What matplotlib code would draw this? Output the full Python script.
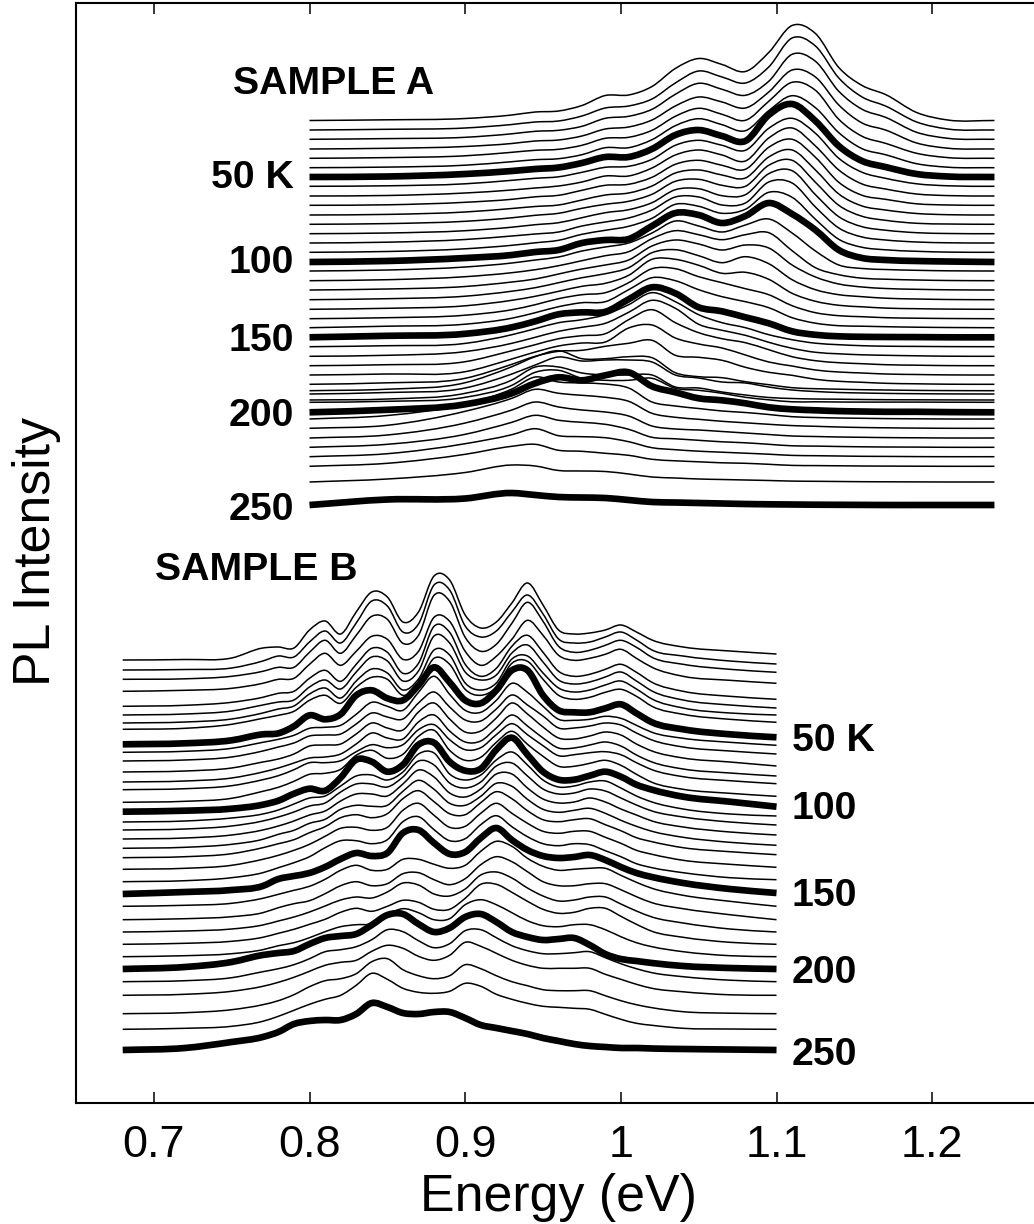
import numpy as np
import matplotlib
matplotlib.use("Agg")
import matplotlib.pyplot as plt
from matplotlib.path import Path
from matplotlib.patches import PathPatch

plt.rcParams['font.family'] = ['Liberation Sans', 'DejaVu Sans']

# ---------- SAMPLE A ----------
A_energy = [.80,.85,.90,.93,.945,.96,.975,.99,1.005,1.02,1.035,1.05,1.065,1.08,1.095,1.11,1.125,1.14,1.155,1.17,1.19,1.21,1.24]
A_offset = [120.5,130,139.3,149,158.3,167.7,177,186.3,196,205.3,215,224.3,233.7,243,252.3,262,271,280.7,290,299.7,309.3,318.7,327.7,337.3,346.7,356.3,365.7,375,384.3,390.7,394,400,402.3,412.3,419,428.3,438,447.3,456.7,466.3,482,505]
A_thick = [6,15,23,33,41]
A_curves = [
[0,.7,2,5.5,8.5,9.5,15,25,25.5,34,52,62,56,49,68,95,87,53,35,26,8,.5,0],
[0,.7,2,5.5,8,9,14,22,24,31,47,59,53,47,63,92,84,52,33,24,8,1,0],
[0,.7,2,5.5,8,9,13,21,23,30,45,56,50,44,58,85,78,48,30,22,7,1,0],
[0,.7,2.5,5.5,8,9,13,20,22,29,43,52,47,41,57,79,72,44,26,19,6,.8,0],
[0,.7,2.5,6,8,9,13,20,21,28,42,50,44,38,57,76,68,39,22,15,5,.7,0],
[0,.6,2.5,6,8,9,13,20,20,28,42,49,43,37,57,72,60,35,19,13,4,.5,0],
[0,.5,3,6,8,9.5,14,20,20,28,42,47,41,36,62,73,56,31,16,10,3,.5,0],
[0,.5,2.5,6,8,9.5,14,19,20,27,41,46,41,36,58,68,53,28,14,8,2.5,.5,0],
[0,.5,3,6,8,10,14,20,20,28,41,46,41,35,58,68,50,26,12,7,2,.4,0],
[0,.5,3,6,8.5,10,15,20,21,28,41,45,40,36,58,66,48,23,10,6,1.5,.3,0],
[0,.6,3,6.5,8.5,10,15,20,22,29,42,45,40,37,58,65,45,21,9,5,1.5,.3,0],
[0,.7,3,6.5,9,11,16,20,23,30,43,45,39,38,59,64,42,19,8,4,1,.3,0],
[0,.7,3,6.5,9,11,16,21,24,31,44,45,38,39,60,63,39,17,7,3.5,1,.2,0],
[0,.8,3.5,7,9,11,17,21,25,33,46,46,38,40,61,60,36,15,6,3,1,.2,0],
[0,.8,3.5,7,9.5,12,18,22,26,34,48,46,39,43,60,55,33,13,5,2.5,1,.2,0],
[0,1,4,7,10,12,19,22,23,36,49,47,39,46,59,48,32,12,4,2,1,.5,0],
[0,1,4,8,11,14,20,24,28,38,50,45,39,46,52,38,20,6,2.5,1.5,.7,.2,0],
[0,1,4,8,11,15,20,25,29,42,50,46,41,46,48,30,13,6,2.5,1.5,.7,.2,0],
[0,1,3.5,8,11,16,21,25,30,44,50,46,40,45,42,25,13,6,3,1.5,.7,.2,0],
[0,1,3.5,8.5,12,17,22,26,32,47,50,44,37,43,36,20,10,5,3,1.5,.7,.2,0],
[0,1,3.5,9,13,18,23,26,34,50,50,44,36,37,30,16,8,4,2.5,1.2,.6,.2,0],
[0,1,3.5,9,14,20,24,26,36,50,50,42,36,30,24,13,6,3,2,1,.5,.2,0],
[0,1.5,3.5,9.5,15,21,25,26,38,50,47,38,31,26,20,10,4.5,2,1.5,1,.5,.2,0],
[0,1.5,3.5,10,16,23,25,25.5,38,50,44,30,26,20,14,6,2.5,1,.5,.3,.2,0,0],
[0,1,3.3,12,18,24,27,32,42,54,45,32,24,19,12,7,3.5,2,1,.5,.3,.1,0],
[0,1,4.7,13,19,25,29,33,44,56,48,32,26,21,14,8,4,2.5,1.5,1,.5,.1,0],
[0,1,4,15,21,27,30,32,46,56,43,33,27,23,16,9,5,3,2,1,.5,.1,0],
[0,1,3.3,16,23,29,32,33,47,50,37,31,27,20,13,9,5,3,2,1,.5,.1,0],
[0,1.5,6,20,28,33,34,38,41,44,29,27,24,17,12,9,5,3,2,1,.5,.1,0],
[0,1.5,8,24,34,40,32,32,34,33,18,14,13,9,6,3,2,1.5,1,.7,.3,.1,0],
[0,1.5,6,20,29,37,33,34,34,32,19,16,12,11,7,4,2.5,1.5,1,.6,.3,.1,0],
[0,1,6.7,20,33,33,27,25,25,25,13,12,8,5,2.5,1.5,1,.8,.5,.3,.2,.1,0],
[0,1,5,17,30,32,24,22,22,24,14,12,9,5,2.5,.5,.5,.3,.2,.2,.2,.1,0],
[0,2.5,8,19,29,35,32,37,40,26,20,14,12,9,5,3,2,1.2,.8,.5,.5,.2,0],
[0,3.5,15,30,42,37,36,35,31,17,13,10.5,8,6.5,4.5,2.3,1.5,1,.7,.4,.2,0,0],
[0,3,17,30,39,35,33,31,27,15,11,9,7,5.5,4,2.7,2,1.3,.8,.5,.2,0,0],
[0,3,15,28,36,31,28,26,22,12,9,8,6.5,5,3.5,2,1.5,1,.7,.4,.2,0,0],
[0,3,13,25,32,27,25,23,18,10,8.5,7,5.5,4.5,3,1.5,1.2,.8,.5,.3,.2,0,0],
[0,3,13,22,28,21,20,19,15,9,7,5.5,4.5,3.5,2.5,1.3,1,.7,.4,.3,.1,0,0],
[0,3,12,20,22,16,15,13,11,7,5.5,4.5,3.5,3,2,.9,.7,.5,.3,.2,.1,0,0],
[0,3,9.5,17,16,11.5,11,10.5,8,5,4,3,2.5,2,1.5,.9,.7,.5,.3,.2,.1,0,0],
[0,5.5,6.5,12,10,8,7.5,7,5,3,2.5,2,1.5,1,.7,.5,.3,.2,.1,0,0,0,0],
]

# ---------- SAMPLE B ----------
B_energy = [.68,.72,.75,.77,.78,.79,.80,.81,.82,.83,.84,.85,.86,.87,.88,.89,.90,.91,.92,.93,.94,.95,.96,.97,.98,.99,1.0,1.01,1.02,1.04,1.07,1.10]
B_offset = [660,670,679.3,691.3,706.3,715,723,729.3,744.3,752.3,761,772,782,789.7,802.3,811.7,822,830,839,848.3,857.7,869.3,881.7,894,906.3,919.7,932,944.3,956.7,969,981.7,995.3,1013.7,1029.3,1050]
B_thick = [8,15,23,29,34]
B_curves = [
[0,.5,2,12,13,12,30,39,26,48,68,63,38,48,84,80,45,32,38,57,77,55,30,26,27,30,35,28,20,13,9,6],
[0,.5,2,9,14,13,28,39,27,47,69,64,38,46,85,80,44,33,39,58,75,56,31,27,28,33,38,30,20,14,9,6],
[0,.5,3,8,12,12,27,39,26,44,63,60,36,44,84,78,42,28,35,56,77,58,33,27,29,34,39,32,22,15,10,7],
[0,1,3,8,12,13,27,38,26,40,55,52,32,40,74,70,40,26,35,52,71,56,36,31,33,37,42,33,24,15,11,8],
[0,1,4,9,13,15,28,36,25,42,58,54,33,43,80,74,42,30,38,60,71,54,35,30,32,37,42,34,24,15,10,7],
[0,1,4,10,13,15,28,35,26,43,58,54,34,44,79,72,43,35,40,62,70,53,35,31,33,38,43,34,24,15,10,7],
[0,1,4,10,14,17,29,35,25,42,54,50,33,44,73,68,40,33,40,64,67,50,35,31,33,38,42,34,24,15,10,8],
[0,1,5,11,14,18,29,34,26,42,52,50,34,45,71,65,40,34,42,66,68,50,34,30,32,37,40,33,23,15,10,7],
[0,1,4,10,11,18,29,25,30,49,54,46,44,59,77,62,44,41,54,74,74,49,34,32,32,36,40,31,22,15,10,7],
[0,1,4,10,13,17,24,25,27,38,50,46,42,60,76,58,42,40,52,69,60,46,33,32,33,36,34,27,20,14,10,7],
[0,1,4,10,14,18,25,26,27,37,48,44,42,58,69,54,41,40,52,66,56,45,33,33,35,38,36,28,21,14,10,7],
[0,1,4,10,13,18,26,27,28,38,49,44,42,60,69,53,40,41,54,69,58,45,34,33,36,40,37,28,21,14,10,6],
[0,1,4,10,14,19,24,25,28,38,49,44,43,60,67,51,40,41,54,67,56,44,34,34,37,40,36,27,20,13,9,6],
[0,1,4,10,14,20,27,27,29,38,45,42,45,60,65,50,40,42,55,66,55,44,34,35,37,38,35,27,20,13,9,6],
[0,1,4,11,15,21,28,29,33,47,52,44,48,66,72,52,42,45,60,71,58,46,36,36,39,42,37,28,20,13,9,6],
[0,1,3,7,11,18,23,21,34,52,50,40,47,67,69,50,41,43,62,74,57,40,32,32,36,40,35,27,22,15,10,5],
[0,1,4,8,12,18,24,26,36,46,47,42,50,68,69,48,42,47,62,70,57,42,35,36,40,41,34,26,20,13,8,6],
[0,1,4,9,13,18,24,27,38,46,46,43,53,69,65,47,42,48,64,67,54,41,36,37,41,39,32,25,19,13,8,5],
[0,1,4,9,13,18,24,28,38,45,45,43,55,69,62,46,42,50,65,65,51,40,36,37,41,37,30,24,18,12,7,4],
[0,1,4,9,14,18,25,29,39,43,42,43,57,68,59,45,43,52,65,62,49,39,36,38,40,35,28,22,17,11,6,3],
[0,1,4,10,14,18,25,31,40,43,40,44,59,67,56,44,43,55,66,59,47,38,36,38,39,33,27,20,16,10,6,3],
[0,1,4,10,14,19,25,33,41,42,39,42,59,66,54,42,43,56,66,56,46,38,36,38,38,32,26,19,15,9,5,2],
[0,1,4,9,14,19,25,34,41,41,38,42,60,65,52,41,43,57,66,55,45,38,36,38,37,31,25,18,14,9,4,2],
[0,2,4,8,15,18,21,27,35,41,38,41,61,64,51,40,42,56,66,54,44,38,36,37,39,34,27,21,17,11,5,1],
[0,1,3,8,12,16,20,27,36,41,36,37,47,47,42,38,41,55,65,60,48,40,36,37,38,38,31,24,18,11,5,0],
[0,1,3,7,12,16,19,26,34,38,34,36,46,47,40,35,41,55,63,58,48,38,34,34,36,36,30,23,17,11,5,0],
[0,1,3,7,11,15,20,26,32,35,34,40,49,47,38,36,43,57,60,54,44,36,31,32,35,35,28,21,15,9,3,0],
[0,1,3,7,11,15,20,25,32,36,33,38,44,42,35,35,46,60,60,52,43,35,31,32,36,36,28,20,13,7,2,0],
[0,1,3,7,11,14,19,25,30,32,33,42,48,44,37,38,52,57,52,44,36,31,30,32,32,27,20,14,10,5,1,0],
[0,2,7,14,16,18,25,31,33,35,44,54,55,45,37,41,52,55,47,37,32,29,30,31,24,15,10,8,6,3,1,0],
[0,1,4,10,13,17,23,30,32,35,42,52,50,41,34,38,51,52,44,36,31,28,28,29,30,24,18,13,9,5,1.5,0],
[0,1,4,9,13,18,24,30,33,35,44,50,47,39,35,40,53,49,42,35,30,27,27,27,27,21,16,11,7,3.5,.5,0],
[0,1,4,9,13,19,27,33,35,40,52,55,44,38,35,38,49,45,38,32,28,24,23,23,23,18,13,9,6,2,.5,0],
[0,1,3,8,13,19,25,30,34,44,56,50,41,37,36,38,46,43,35,30,26,23,22,21,20,15,10,6,4,1,.3,0],
[0,2,8,13,18,26,29,30,30,36,47,43,37,36,38,38,32,25,22,19,16,12,9,6,4,3,2,2,1.5,1,.5,0],
]

x_ticks = [.7,.8,.9,1.0,1.1,1.2]
x_ticklabels = ['0.7','0.8','0.9','1','1.1','1.2']
A_labels = [('50 K',178),('100',263),('150',341),('200',416),('250',510)]
B_labels = [('50 K',741),('100',809),('150',896),('200',973),('250',1055)]

W, H = 1034, 1224
fig = plt.figure(figsize=(W/100, H/100), dpi=100)
L, R, T, B = 76, 1034, 3, 1103
ax = fig.add_axes([L/W, 1-B/H, (R-L)/W, (B-T)/H])
ax.set_xlim(.65, 1.2654)
ax.set_ylim(-B, -T)      # one unit of stacked intensity = one pixel


def smooth_path(x, y):
    x = np.asarray(x, float); y = np.asarray(y, float)
    m = np.gradient(y, x, edge_order=1)
    verts = [(x[0], y[0])]
    codes = [Path.MOVETO]
    for i in range(len(x)-1):
        d = (x[i+1]-x[i])/3
        verts += [(x[i]+d, y[i]+m[i]*d), (x[i+1]-d, y[i+1]-m[i+1]*d), (x[i+1], y[i+1])]
        codes += [Path.CURVE4]*3
    return Path(verts, codes)


def draw_stack(energy, offsets, curves, thick):
    for i, (off, h) in enumerate(zip(offsets, curves)):
        y = np.asarray(h, float) - off
        lw = 4.8 if i in thick else 1.1
        ax.add_patch(PathPatch(smooth_path(energy, y), fill=False, edgecolor='black',
                               lw=lw, capstyle='butt', joinstyle='round', zorder=2))


draw_stack(A_energy, A_offset, A_curves, A_thick)
draw_stack(B_energy, B_offset, B_curves, B_thick)

for s in ('left', 'top', 'bottom'):
    ax.spines[s].set_linewidth(1.5)
ax.spines['right'].set_visible(False)
ax.set_yticks([])
ax.set_xticks(x_ticks)
ax.set_xticklabels(x_ticklabels, fontsize=32.4)
ax.tick_params(axis='x', direction='in', top=True, bottom=True, length=8, width=1.1, pad=16)

ax.set_xlabel('Energy (eV)', fontsize=37.4)
ax.xaxis.set_label_coords((558-L)/(R-L), (B-1173)/(B-T))
ax.set_ylabel('PL Intensity', fontsize=37.4, va='center')
ax.yaxis.set_label_coords((37-L)/(R-L), (B-552)/(B-T))

bold = dict(fontsize=28.3, fontweight='bold', va='center', color='black')
ax.annotate('SAMPLE A', xy=(233, H-84), xycoords='figure pixels', ha='left', **bold)
ax.annotate('SAMPLE B', xy=(155, H-570), xycoords='figure pixels', ha='left', **bold)
for lab, py in A_labels:
    ax.annotate(lab, xy=(294, H-py), xycoords='figure pixels', ha='right', **bold)
for lab, py in B_labels:
    ax.annotate(lab, xy=(792, H-py), xycoords='figure pixels', ha='left', **bold)

fig.savefig('out.png', dpi=100)
